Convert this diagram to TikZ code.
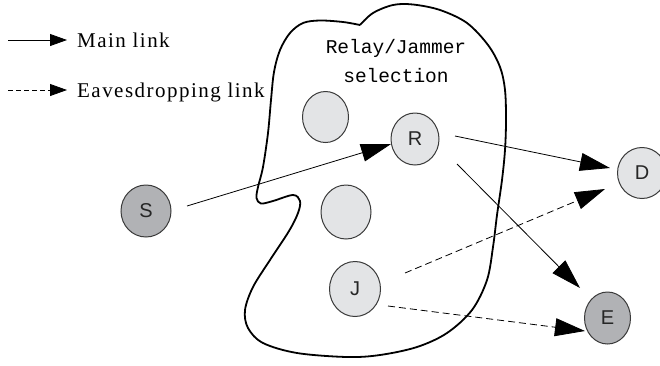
\documentclass[tikz,border=0pt]{standalone}
\usepackage{fontspec}
\setmainfont{Liberation Serif}
\newfontfamily\lgfont{Liberation Serif}[LetterSpace=7]
\newfontfamily\monof{Liberation Mono}
\newfontfamily\nodef{Liberation Sans}
\usetikzlibrary{arrows.meta,shapes.geometric,calc}
\definecolor{lightnode}{HTML}{E3E4E6}
\definecolor{darknode}{HTML}{B1B2B5}
\definecolor{nodeline}{HTML}{3A3A3A}
\tikzset{
  station/.style={ellipse, draw=nodeline, line width=1pt, minimum width=48pt, minimum height=52pt, inner sep=0pt,
    font=\nodef\fontsize{20}{22}\selectfont, text=black!85},
  lightst/.style={station, fill=lightnode},
  darkst/.style={station, fill=darknode},
  mainlink/.style={line width=0.8pt, -{Triangle[length=30pt,width=18pt]}},
  eavlink/.style={line width=0.8pt, dash pattern=on 7pt off 4pt, -{Triangle[length=30pt,width=18pt]}},
  legmain/.style={line width=0.8pt, -{Triangle[length=17pt,width=12pt]}},
  legeav/.style={line width=0.8pt, dash pattern=on 5pt off 3pt, -{Triangle[length=17pt,width=12pt]}},
  legtext/.style={anchor=base west, inner sep=0pt, font=\lgfont\fontsize{21}{23}\selectfont},
}
\begin{document}
\begin{tikzpicture}[x=1pt,y=-1pt]
\useasboundingbox (0,0) rectangle (660,365);
% selection region
\draw[line width=1.8pt, line join=round] plot[smooth, tension=0.55] coordinates {
 (360,25) (373,13) (393,5) (413,4.5) (440,10) (467,23) (488,45) (500,67) (505,90) (506,120)
 (505,150) (502,180) (497,215) (493,247) (487,280) (472,310) (447,333) (417,347) (380,355)
 (347,357) (297,353) (263,343) (248,328) (245,310) (253,287) (270,260) (289,231) (298,213)
 (300,201) (293,195) (273,201) (261,203.5) (256.5,198) (258,187) (263,167) (268,133) (271,100)
 (274,72) (280,50) (290,33) (303,23) (320,20.5) (343,22) (360,25)};
\node[align=center, inner sep=0pt, font=\monof\fontsize{19.5}{29}\selectfont] (title) at (396,61) {Relay/Jammer\\selection};
% stations
\node[darkst, minimum width=50pt] (S) at (146,211) {S};
\node[lightst, minimum width=46pt, minimum height=51pt] (C1) at (325.5,117) {};
\node[lightst] (R) at (415,139) {R};
\node[lightst, minimum width=50pt, minimum height=54pt] (C2) at (346,212) {};
\node[lightst, minimum width=51pt, minimum height=55pt] (J) at (355,289) {J};
\node[lightst, minimum width=49pt, minimum height=51pt] (D) at (642,173) {D};
\node[darkst, minimum width=46pt, minimum height=52pt] (E) at (607.5,318) {E};
% links
\draw[mainlink] ($(S)+(41,-5)$) -- ($(R)+(-24,5)$);
\draw[mainlink] ($(R)+(40,-3)$) -- ($(D)+(-32,-5)$);
\draw[mainlink] ($(R)+(42,25)$) -- ($(E)+(-27.5,-30)$);
\draw[eavlink] ($(J)+(50,-16)$) -- ($(D)+(-37,16)$);
\draw[eavlink] ($(J)+(33,17)$) -- ($(E)+(-22.5,13)$);
% legend
\coordinate (l1a) at (8,40);
\coordinate (l1b) at (67,40);
\coordinate (l2a) at (8,90);
\coordinate (l2b) at (67,90);
\draw[legmain] (l1a) -- (l1b);
\draw[legeav] (l2a) -- (l2b);
\node[legtext] (t1) at (77,47) {Main link};
\node[legtext] (t2) at (77,97) {Eavesdropping link};
\end{tikzpicture}
\end{document}
